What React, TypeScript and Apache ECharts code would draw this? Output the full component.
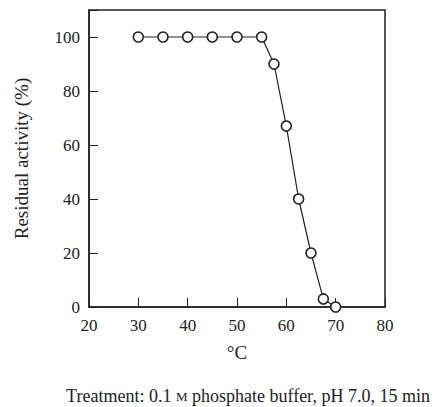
import React, { useEffect, useRef } from "react";
import * as echarts from "echarts";

const temperatures = [30, 35, 40, 45, 50, 55, 57.5, 60, 62.5, 65, 67.5, 70];
const activity = [100, 100, 100, 100, 100, 100, 90, 67, 40, 20, 3, 0];
const xTitle = "°C";
const yTitle = "Residual activity (%)";
const captionPre = "Treatment: 0.1 ";
const captionSc = "M";
const captionPost = " phosphate buffer, pH 7.0, 15 min";

const FONT = "'Liberation Serif', 'Times New Roman', serif";

export default function App() {
  const ref = useRef<HTMLDivElement>(null);
  useEffect(() => {
    document.body.style.margin = "0";
    const chart = echarts.init(ref.current!, null, { renderer: "svg" });
    chart.setOption({
      animation: false,
      backgroundColor: "#fff",
      grid: { left: 89, right: 53, top: 10, bottom: 100 },
      xAxis: {
        type: "value",
        min: 20,
        max: 80,
        interval: 10,
        name: xTitle,
        nameLocation: "middle",
        nameGap: 36,
        nameTextStyle: { fontFamily: FONT, fontSize: 19, color: "#222" },
        axisLine: { show: true, onZero: false, lineStyle: { color: "#222", width: 1.5 } },
        axisTick: { show: true, inside: true, length: 9, lineStyle: { color: "#222", width: 1 } },
        axisLabel: { fontFamily: FONT, fontSize: 17, color: "#222", margin: 10 },
        splitLine: { show: false },
      },
      yAxis: {
        type: "value",
        min: 0,
        max: 110,
        interval: 20,
        name: yTitle,
        nameLocation: "middle",
        nameGap: 58,
        nameTextStyle: { fontFamily: FONT, fontSize: 19, color: "#222" },
        axisLine: { show: true, onZero: false, lineStyle: { color: "#222", width: 1.5 } },
        axisTick: { show: true, inside: true, length: 9, lineStyle: { color: "#222", width: 1 } },
        axisLabel: {
          fontFamily: FONT,
          fontSize: 17,
          color: "#222",
          margin: 9,
          formatter: (v: number) => (v % 20 === 0 && v <= 100 ? String(v) : ""),
        },
        splitLine: { show: false },
      },
      series: [
        {
          type: "line",
          data: temperatures.map((t, i) => [t, activity[i]]),
          symbol: "circle",
          symbolSize: 10,
          lineStyle: { color: "#222", width: 1.2 },
          itemStyle: { color: "#fff", borderColor: "#222", borderWidth: 1.6 },
          z: 3,
        },
      ],
      graphic: [
        {
          type: "rect",
          shape: { x: 89, y: 10, width: 296, height: 297 },
          style: { fill: "none", stroke: "#222", lineWidth: 1.5 },
          silent: true,
          z: 1,
        },
        {
          type: "text",
          x: 248,
          y: 396,
          style: {
            text: `{n|${captionPre}}{sc|${captionSc}}{n|${captionPost}}`,
            rich: {
              n: { fontFamily: FONT, fontSize: 18, fill: "#222" },
              sc: { fontFamily: FONT, fontSize: 13, fill: "#222" },
            },
            align: "center",
            verticalAlign: "middle",
          },
        },
      ],
    });
    return () => chart.dispose();
  }, []);
  return <div ref={ref} style={{ width: 438, height: 407 }} />;
}
